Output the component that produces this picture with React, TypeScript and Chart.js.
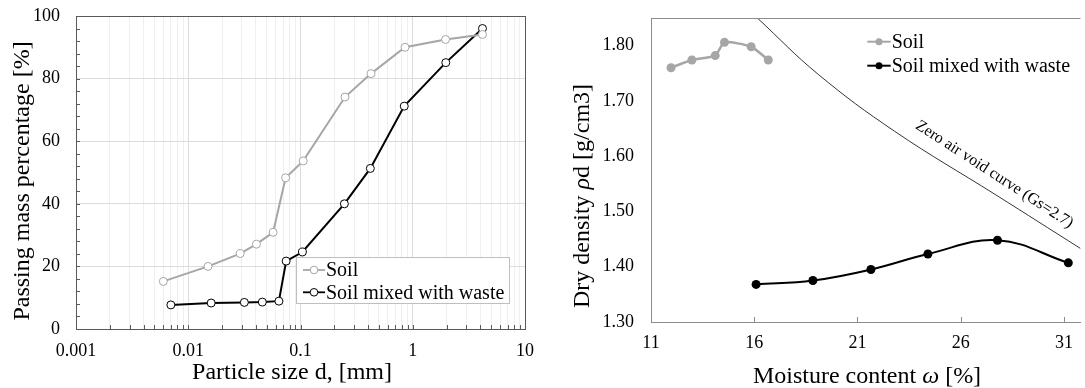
import React, { useEffect, useRef } from 'react';
import { Chart, registerables } from 'chart.js';

Chart.register(...registerables);

const FONT = "'Liberation Serif', 'Times New Roman', serif";

// ---- Left panel: particle size distribution ----
const soilSize = [0.006, 0.015, 0.029, 0.0405, 0.057, 0.0737, 0.1057, 0.249, 0.425, 0.853, 1.96, 4.18];
const soilPassing = [15.2, 20.0, 24.1, 27.1, 30.9, 48.3, 53.7, 74.1, 81.6, 90.0, 92.5, 94.1];
const mixSize = [0.007, 0.016, 0.0316, 0.0457, 0.0642, 0.0745, 0.104, 0.246, 0.419, 0.84, 1.97, 4.18];
const mixPassing = [7.7, 8.3, 8.5, 8.6, 8.9, 21.7, 24.6, 40.0, 51.3, 71.2, 85.1, 96.0];
const sizeDecades = [0.001, 0.01, 0.1, 1, 10];
const sizeLabels = ['0.001', '0.01', '0.1', '1', '10'];
const passingTicks = [0, 20, 40, 60, 80, 100];

// ---- Right panel: compaction curves ----
const soilMoisture = [11.97, 12.98, 14.11, 14.56, 15.85, 16.68];
const soilDensity = [1.76, 1.774, 1.782, 1.806, 1.798, 1.774];
const mixMoisture = [16.09, 18.84, 21.65, 24.41, 27.78, 31.21];
const mixDensity = [1.368, 1.375, 1.395, 1.423, 1.448, 1.407];
const zavMoisture = [16.15, 19.1, 22.8, 27.7, 31.8];
const zavDensity = [1.85, 1.748, 1.645, 1.53, 1.433];
const moistureTicks = [11, 16, 21, 26, 31];
const densityTicks = [1.3, 1.4, 1.5, 1.6, 1.7, 1.8];

const seriesNames = ['Soil', 'Soil mixed with waste'];
const GRAY = '#a6a6a6';
const BLACK = '#000000';

const isDecade = (v: number) => Math.abs(Math.log10(v) - Math.round(Math.log10(v))) < 1e-6;

type Part = { t: string; italic?: boolean };
function drawRich(ctx: CanvasRenderingContext2D, parts: Part[], size: number, x: number, y: number, angle: number) {
  ctx.save();
  ctx.translate(x, y);
  ctx.rotate(angle);
  ctx.textBaseline = 'alphabetic';
  ctx.textAlign = 'left';
  ctx.fillStyle = '#000';
  const fonts = parts.map((p) => `${p.italic ? 'italic ' : ''}${size}px ${FONT}`);
  let total = 0;
  const widths = parts.map((p, i) => {
    ctx.font = fonts[i];
    const w = ctx.measureText(p.t).width;
    total += w;
    return w;
  });
  let cx = -total / 2;
  parts.forEach((p, i) => {
    ctx.font = fonts[i];
    ctx.fillText(p.t, cx, 0);
    cx += widths[i];
  });
  ctx.restore();
}

function buildLeftGrid(): number[] {
  const out: number[] = [];
  for (let d = 0; d < sizeDecades.length; d++) {
    const base = sizeDecades[d];
    if (d === sizeDecades.length - 1) {
      out.push(base);
    } else {
      for (let m = 1; m <= 9; m++) out.push(parseFloat((base * m).toPrecision(6)));
    }
  }
  return out;
}

const zeroPadV = (s: any) => {
  s.paddingTop = 0;
  s.paddingBottom = 0;
};
const zeroPadH = (s: any) => {
  s.paddingLeft = 0;
  s.paddingRight = 0;
};

const leftDecor = {
  id: 'leftDecor',
  afterDraw(chart: any) {
    const ctx: CanvasRenderingContext2D = chart.ctx;
    const a = chart.chartArea;
    const xs = chart.scales.x;
    const ys = chart.scales.y;
    ctx.save();
    ctx.strokeStyle = '#595959';
    ctx.lineWidth = 1;
    ctx.beginPath();
    buildLeftGrid().forEach((v) => {
      const px = Math.round(xs.getPixelForValue(v)) + 0.5;
      ctx.moveTo(px, a.bottom);
      ctx.lineTo(px, a.bottom - 4);
    });
    for (let v = 0; v <= 100; v += 4) {
      const py = Math.round(ys.getPixelForValue(v)) + 0.5;
      ctx.moveTo(a.left, py);
      ctx.lineTo(a.left + 4, py);
    }
    ctx.stroke();
    ctx.strokeStyle = '#595959';
    ctx.strokeRect(Math.round(a.left) + 0.5, Math.round(a.top) + 0.5, Math.round(a.right - a.left), Math.round(a.bottom - a.top));
    const lx = 296.5, ly = 257.5, lw = 213, lh = 46;
    ctx.fillStyle = '#ffffff';
    ctx.fillRect(lx, ly, lw, lh);
    ctx.strokeStyle = '#bfbfbf';
    ctx.strokeRect(lx, ly, lw, lh);
    const rows = [270, 292.3];
    const cols = [GRAY, BLACK];
    rows.forEach((ry, i) => {
      ctx.strokeStyle = cols[i];
      ctx.lineWidth = 1.8;
      ctx.beginPath();
      ctx.moveTo(303, ry);
      ctx.lineTo(325, ry);
      ctx.stroke();
      ctx.beginPath();
      ctx.arc(314, ry, 3.8, 0, Math.PI * 2);
      ctx.fillStyle = '#fff';
      ctx.fill();
      ctx.lineWidth = 1;
      ctx.stroke();
      ctx.fillStyle = '#000';
      ctx.font = `20px ${FONT}`;
      ctx.textBaseline = 'middle';
      ctx.textAlign = 'left';
      ctx.fillText(seriesNames[i], 326, ry + 1);
    });
    drawRich(ctx, [{ t: 'Particle size d, [mm]' }], 24, 292, 379, 0);
    drawRich(ctx, [{ t: 'Passing mass percentage [%]' }], 24, 28.6, 181, -Math.PI / 2);
    ctx.restore();
  },
};

const rightDecor = {
  id: 'rightDecor',
  afterDraw(chart: any) {
    const ctx: CanvasRenderingContext2D = chart.ctx;
    const a = chart.chartArea;
    const xs = chart.scales.x;
    const ys = chart.scales.y;
    ctx.save();
    ctx.strokeStyle = '#8c8c8c';
    ctx.lineWidth = 1;
    ctx.beginPath();
    const top = Math.round(a.top) + 0.5;
    ctx.moveTo(a.left, top);
    ctx.lineTo(a.right, top);
    moistureTicks.slice(1).forEach((v) => {
      const px = Math.round(xs.getPixelForValue(v)) + 0.5;
      ctx.moveTo(px, a.bottom);
      ctx.lineTo(px, a.bottom - 5);
    });
    ctx.stroke();
    ctx.font = `16px ${FONT}`;
    ctx.fillStyle = '#000';
    ctx.textAlign = 'center';
    ctx.textBaseline = 'middle';
    ctx.save();
    ctx.translate(xs.getPixelForValue(27.63), ys.getPixelForValue(1.567));
    ctx.rotate((33 * Math.PI) / 180);
    ctx.fillText('Zero air void curve (Gs=2.7)', 0, 0);
    ctx.restore();
    const rows = [41.7, 65.7];
    const cols = [GRAY, BLACK];
    rows.forEach((ry, i) => {
      ctx.strokeStyle = cols[i];
      ctx.lineWidth = 2;
      ctx.beginPath();
      ctx.moveTo(322.3, ry);
      ctx.lineTo(345.7, ry);
      ctx.stroke();
      ctx.beginPath();
      ctx.arc(334, ry, 3.5, 0, Math.PI * 2);
      ctx.fillStyle = cols[i];
      ctx.fill();
      ctx.fillStyle = '#000';
      ctx.font = `20px ${FONT}`;
      ctx.textBaseline = 'middle';
      ctx.textAlign = 'left';
      ctx.fillText(seriesNames[i], 346.7, ry + 1);
    });
    drawRich(ctx, [{ t: 'Moisture content ' }, { t: 'ω', italic: true }, { t: ' [%]' }], 24, 322, 382.5, 0);
    drawRich(ctx, [{ t: 'Dry density ' }, { t: 'ρ', italic: true }, { t: 'd [g/cm3]' }], 24, 43.6, 196, -Math.PI / 2);
    ctx.restore();
  },
};

function LeftChart() {
  const ref = useRef<HTMLCanvasElement>(null);
  useEffect(() => {
    const chart = new Chart(ref.current!, {
      type: 'line',
      data: {
        datasets: [
          {
            label: seriesNames[0],
            data: soilSize.map((x, i) => ({ x, y: soilPassing[i] })),
            borderColor: GRAY,
            backgroundColor: '#ffffff',
            pointBorderColor: GRAY,
            pointBackgroundColor: '#ffffff',
            borderWidth: 2,
            pointRadius: 4,
            pointBorderWidth: 1,
            tension: 0,
          },
          {
            label: seriesNames[1],
            data: mixSize.map((x, i) => ({ x, y: mixPassing[i] })),
            borderColor: BLACK,
            backgroundColor: '#ffffff',
            pointBorderColor: BLACK,
            pointBackgroundColor: '#ffffff',
            borderWidth: 2,
            pointRadius: 4,
            pointBorderWidth: 1,
            tension: 0,
          },
        ],
      },
      options: {
        animation: false,
        responsive: false,
        maintainAspectRatio: false,
        layout: { padding: { top: 16, right: 20, left: 0, bottom: 0 } },
        plugins: { legend: { display: false }, tooltip: { enabled: false } },
        scales: {
          x: {
            type: 'logarithmic',
            min: 0.001,
            max: 10,
            afterBuildTicks: (s: any) => {
              s.ticks = buildLeftGrid().map((v) => ({ value: v, major: isDecade(v) }));
            },
            afterFit: (s: any) => {
              s.height = 59;
              zeroPadH(s);
            },
            ticks: {
              autoSkip: false,
              maxRotation: 0,
              padding: 11,
              color: '#000',
              font: { family: FONT, size: 18 },
              callback: (v: any) => {
                const idx = sizeDecades.findIndex((d) => Math.abs(d - Number(v)) < 1e-9);
                return idx >= 0 ? sizeLabels[idx] : '';
              },
            },
            grid: {
              drawTicks: false,
              color: (c: any) => (c.tick && isDecade(c.tick.value) ? '#dcdcdc' : '#efefef'),
            },
            border: { display: false },
          },
          y: {
            min: 0,
            max: 100,
            afterBuildTicks: (s: any) => {
              s.ticks = passingTicks.map((v) => ({ value: v }));
            },
            afterFit: (s: any) => {
              s.width = 76;
              zeroPadV(s);
            },
            ticks: {
              padding: 16,
              color: '#000',
              font: { family: FONT, size: 18 },
            },
            grid: {
              drawTicks: false,
              color: (c: any) => (c.tick && (c.tick.value === 0 || c.tick.value === 100) ? 'rgba(0,0,0,0)' : '#dcdcdc'),
            },
            border: { display: false },
          },
        },
      },
      plugins: [leftDecor],
    } as any);
    return () => chart.destroy();
  }, []);
  return <canvas ref={ref} width={545} height={388} style={{ position: 'absolute', left: 0, top: 0, width: 545, height: 388 }} />;
}

function RightChart() {
  const ref = useRef<HTMLCanvasElement>(null);
  useEffect(() => {
    const chart = new Chart(ref.current!, {
      type: 'line',
      data: {
        datasets: [
          {
            label: 'Zero air void curve (Gs=2.7)',
            data: zavMoisture.map((x, i) => ({ x, y: zavDensity[i] })),
            borderColor: '#000',
            borderWidth: 0.8,
            pointRadius: 0,
            tension: 0.4,
            clip: 0,
          },
          {
            label: seriesNames[0],
            data: soilMoisture.map((x, i) => ({ x, y: soilDensity[i] })),
            borderColor: GRAY,
            backgroundColor: GRAY,
            pointBackgroundColor: GRAY,
            pointBorderColor: GRAY,
            borderWidth: 2.5,
            pointRadius: 4.5,
            pointBorderWidth: 0,
            tension: 0.2,
          },
          {
            label: seriesNames[1],
            data: mixMoisture.map((x, i) => ({ x, y: mixDensity[i] })),
            borderColor: BLACK,
            backgroundColor: BLACK,
            pointBackgroundColor: BLACK,
            pointBorderColor: BLACK,
            borderWidth: 2,
            pointRadius: 4.5,
            pointBorderWidth: 0,
            tension: 0.4,
          },
        ],
      },
      options: {
        animation: false,
        responsive: false,
        maintainAspectRatio: false,
        layout: { padding: { top: 18, right: 0, left: 0, bottom: 0 } },
        plugins: { legend: { display: false }, tooltip: { enabled: false } },
        scales: {
          x: {
            type: 'linear',
            min: 11,
            max: 31.8,
            afterBuildTicks: (s: any) => {
              s.ticks = moistureTicks.map((v) => ({ value: v }));
            },
            afterFit: (s: any) => {
              s.height = 66;
              zeroPadH(s);
            },
            ticks: {
              autoSkip: false,
              maxRotation: 0,
              padding: 10,
              color: '#000',
              font: { family: FONT, size: 18 },
              callback: (v: any) => String(v),
            },
            grid: { display: false, drawTicks: false },
            border: { display: true, color: '#8c8c8c', width: 1 },
          },
          y: {
            min: 1.3,
            max: 1.85,
            afterBuildTicks: (s: any) => {
              s.ticks = densityTicks.map((v) => ({ value: v }));
            },
            afterFit: (s: any) => {
              s.width = 106;
              zeroPadV(s);
            },
            ticks: {
              padding: 17,
              color: '#000',
              font: { family: FONT, size: 18 },
              callback: (v: any) => Number(v).toFixed(2),
            },
            grid: { display: false, drawTicks: false },
            border: { display: true, color: '#8c8c8c', width: 1 },
          },
        },
      },
      plugins: [rightDecor],
    } as any);
    return () => chart.destroy();
  }, []);
  return <canvas ref={ref} width={540} height={388} style={{ position: 'absolute', left: 545, top: 0, width: 540, height: 388 }} />;
}

export default function App() {
  return (
    <div style={{ position: 'absolute', left: 0, top: 0, width: 1085, height: 388, background: '#fff', overflow: 'hidden' }}>
      <LeftChart />
      <RightChart />
    </div>
  );
}
